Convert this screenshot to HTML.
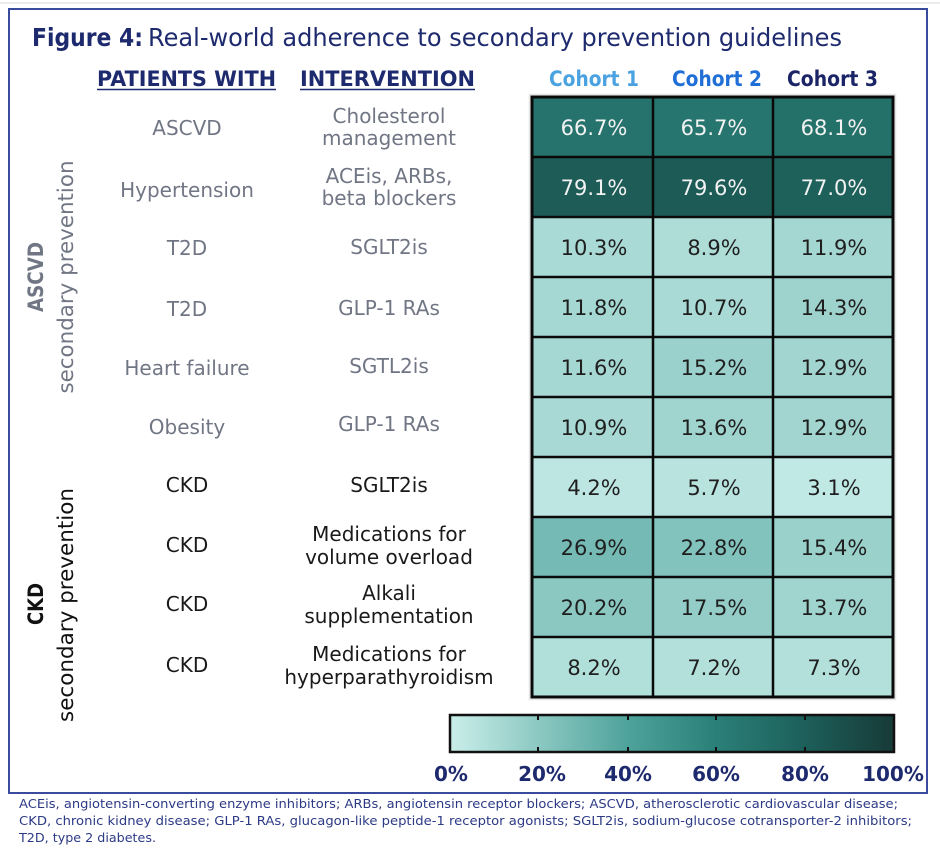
<!DOCTYPE html>
<html><head><meta charset="utf-8">
<style>
html,body{margin:0;padding:0;background:#fff;}
svg{display:block;}
</style></head>
<body>
<svg width="940" height="850" viewBox="0 0 940 850" xmlns="http://www.w3.org/2000/svg">
<defs>
<linearGradient id="cb" x1="0" y1="0" x2="1" y2="0">
<stop offset="0" stop-color="#caeeea"/>
<stop offset="0.2" stop-color="#8cc8c2"/>
<stop offset="0.4" stop-color="#4ea39b"/>
<stop offset="0.6" stop-color="#2a8078"/>
<stop offset="0.8" stop-color="#1d5f5a"/>
<stop offset="1" stop-color="#173a37"/>
</linearGradient>
</defs>
<rect width="940" height="850" fill="#fff"/>
<line x1="0" y1="3" x2="940" y2="3" stroke="#d8d8d8" stroke-width="1"/>
<!-- frame -->
<rect x="9" y="9" width="918" height="784" fill="none" stroke="#3a4a9c" stroke-width="2"/>

<!-- title -->
<g font-family="DejaVu Sans, Liberation Sans, sans-serif" fill="#1e2a6e" font-size="25">
<text x="32" y="46" font-weight="bold" textLength="111" lengthAdjust="spacingAndGlyphs">Figure 4:</text>
<text x="148" y="46" textLength="694" lengthAdjust="spacingAndGlyphs">Real-world adherence to secondary prevention guidelines</text>
</g>

<!-- headers -->
<g font-family="DejaVu Sans, Liberation Sans, sans-serif" font-weight="bold" font-size="21">
<text x="97" y="86" fill="#1e2a6e" textLength="179" lengthAdjust="spacingAndGlyphs">PATIENTS WITH</text>
<text x="300" y="86" fill="#1e2a6e" textLength="175" lengthAdjust="spacingAndGlyphs">INTERVENTION</text>
<text x="549" y="86" fill="#4aa3e0" textLength="90" lengthAdjust="spacingAndGlyphs">Cohort 1</text>
<text x="672" y="86" fill="#1f6fd6" textLength="90" lengthAdjust="spacingAndGlyphs">Cohort 2</text>
<text x="787" y="86" fill="#1a2466" textLength="91" lengthAdjust="spacingAndGlyphs">Cohort 3</text>
</g>
<line x1="97" y1="89.5" x2="276" y2="89.5" stroke="#1e2a6e" stroke-width="1.5"/>
<line x1="300" y1="89.5" x2="475" y2="89.5" stroke="#1e2a6e" stroke-width="1.5"/>

<!-- vertical labels -->
<g font-family="DejaVu Sans, Liberation Sans, sans-serif" font-size="21" text-anchor="middle">
<text x="43" y="277" transform="rotate(-90 43 277)" font-weight="bold" fill="#717684" textLength="70" lengthAdjust="spacingAndGlyphs">ASCVD</text>
<text x="73" y="277" transform="rotate(-90 73 277)" fill="#717684" textLength="233" lengthAdjust="spacingAndGlyphs">secondary prevention</text>
<text x="43" y="604" transform="rotate(-90 43 604)" font-weight="bold" fill="#111" textLength="42" lengthAdjust="spacingAndGlyphs">CKD</text>
<text x="73" y="605" transform="rotate(-90 73 605)" fill="#111" textLength="234" lengthAdjust="spacingAndGlyphs">secondary prevention</text>
</g>

<!-- row labels -->
<g font-family="DejaVu Sans, Liberation Sans, sans-serif" font-size="20" text-anchor="middle" fill="#717684">
<text x="187" y="135">ASCVD</text>
<text x="389" y="123">Cholesterol</text>
<text x="389" y="145">management</text>
<text x="187" y="197">Hypertension</text>
<text x="389" y="183">ACEis, ARBs,</text>
<text x="389" y="205">beta blockers</text>
<text x="187" y="255">T2D</text>
<text x="389" y="254">SGLT2is</text>
<text x="187" y="316">T2D</text>
<text x="389" y="315">GLP-1 RAs</text>
<text x="187" y="375">Heart failure</text>
<text x="389" y="373">SGTL2is</text>
<text x="187" y="434">Obesity</text>
<text x="389" y="431">GLP-1 RAs</text>
</g>
<g font-family="DejaVu Sans, Liberation Sans, sans-serif" font-size="20" text-anchor="middle" fill="#1a1a1a">
<text x="187" y="492">CKD</text>
<text x="389" y="492">SGLT2is</text>
<text x="187" y="552">CKD</text>
<text x="389" y="541">Medications for</text>
<text x="389" y="564">volume overload</text>
<text x="187" y="611">CKD</text>
<text x="389" y="600">Alkali</text>
<text x="389" y="623">supplementation</text>
<text x="187" y="672">CKD</text>
<text x="389" y="661">Medications for</text>
<text x="389" y="684">hyperparathyroidism</text>
</g>

<!-- heatmap cells -->
<rect x="529.5" y="94.5" width="366" height="605" fill="none" stroke="#e6e6e6" stroke-width="1.5"/>
<g>
<rect x="532" y="97" width="121" height="60" fill="#25736c"/>
<rect x="653" y="97" width="120" height="60" fill="#26756e"/>
<rect x="773" y="97" width="120" height="60" fill="#24716a"/>
<rect x="532" y="157" width="121" height="60" fill="#1d5c57"/>
<rect x="653" y="157" width="120" height="60" fill="#1c5b56"/>
<rect x="773" y="157" width="120" height="60" fill="#1e605a"/>
<rect x="532" y="217" width="121" height="60" fill="#aadad5"/>
<rect x="653" y="217" width="120" height="60" fill="#aeddd8"/>
<rect x="773" y="217" width="120" height="60" fill="#a5d7d2"/>
<rect x="532" y="277" width="121" height="60" fill="#a5d8d2"/>
<rect x="653" y="277" width="120" height="60" fill="#a9dad5"/>
<rect x="773" y="277" width="120" height="60" fill="#9ed3cd"/>
<rect x="532" y="337" width="121" height="60" fill="#a6d8d3"/>
<rect x="653" y="337" width="120" height="60" fill="#9bd1cc"/>
<rect x="773" y="337" width="120" height="60" fill="#a2d5d0"/>
<rect x="532" y="397" width="121" height="60" fill="#a8d9d4"/>
<rect x="653" y="397" width="120" height="60" fill="#a0d4cf"/>
<rect x="773" y="397" width="120" height="60" fill="#a2d5d0"/>
<rect x="532" y="457" width="121" height="60" fill="#bde6e2"/>
<rect x="653" y="457" width="120" height="60" fill="#b8e3df"/>
<rect x="773" y="457" width="120" height="60" fill="#c0e8e4"/>
<rect x="532" y="517" width="121" height="60" fill="#75bab4"/>
<rect x="653" y="517" width="120" height="60" fill="#83c3bd"/>
<rect x="773" y="517" width="120" height="60" fill="#9ad1cb"/>
<rect x="532" y="577" width="121" height="60" fill="#8bc8c2"/>
<rect x="653" y="577" width="120" height="60" fill="#94cdc7"/>
<rect x="773" y="577" width="120" height="60" fill="#a0d4cf"/>
<rect x="532" y="637" width="121" height="60" fill="#b1dfda"/>
<rect x="653" y="637" width="120" height="60" fill="#b4e0dc"/>
<rect x="773" y="637" width="120" height="60" fill="#b3e0db"/>
</g>
<!-- grid lines -->
<g stroke="#0a0a0a" stroke-width="2.5">
<line x1="653" y1="97" x2="653" y2="697"/>
<line x1="773" y1="97" x2="773" y2="697"/>
<line x1="532" y1="157" x2="893" y2="157"/>
<line x1="532" y1="217" x2="893" y2="217"/>
<line x1="532" y1="277" x2="893" y2="277"/>
<line x1="532" y1="337" x2="893" y2="337"/>
<line x1="532" y1="397" x2="893" y2="397"/>
<line x1="532" y1="457" x2="893" y2="457"/>
<line x1="532" y1="517" x2="893" y2="517"/>
<line x1="532" y1="577" x2="893" y2="577"/>
<line x1="532" y1="637" x2="893" y2="637"/>
</g>
<rect x="532" y="97" width="361" height="600" fill="none" stroke="#0a0a0a" stroke-width="3"/>

<!-- cell text -->
<g font-family="DejaVu Sans, Liberation Sans, sans-serif" font-size="21" text-anchor="middle">
<g fill="#f2f2f2">
<text x="594" y="135">66.7%</text><text x="714" y="135">65.7%</text><text x="834" y="135">68.1%</text>
<text x="594" y="195">79.1%</text><text x="714" y="195">79.6%</text><text x="834" y="195">77.0%</text>
</g>
<g fill="#1f1f1f">
<text x="594" y="255">10.3%</text><text x="714" y="255">8.9%</text><text x="834" y="255">11.9%</text>
<text x="594" y="315">11.8%</text><text x="714" y="315">10.7%</text><text x="834" y="315">14.3%</text>
<text x="594" y="375">11.6%</text><text x="714" y="375">15.2%</text><text x="834" y="375">12.9%</text>
<text x="594" y="435">10.9%</text><text x="714" y="435">13.6%</text><text x="834" y="435">12.9%</text>
<text x="594" y="495">4.2%</text><text x="714" y="495">5.7%</text><text x="834" y="495">3.1%</text>
<text x="594" y="555">26.9%</text><text x="714" y="555">22.8%</text><text x="834" y="555">15.4%</text>
<text x="594" y="615">20.2%</text><text x="714" y="615">17.5%</text><text x="834" y="615">13.7%</text>
<text x="594" y="675">8.2%</text><text x="714" y="675">7.2%</text><text x="834" y="675">7.3%</text>
</g>
</g>

<!-- colorbar -->
<rect x="450" y="715" width="444" height="37" fill="url(#cb)" stroke="#111" stroke-width="2.5"/>
<g stroke="#111" stroke-width="2">
<line x1="538" y1="715" x2="538" y2="720"/><line x1="538" y1="747" x2="538" y2="752"/>
<line x1="628" y1="715" x2="628" y2="720"/><line x1="628" y1="747" x2="628" y2="752"/>
<line x1="716" y1="715" x2="716" y2="720"/><line x1="716" y1="747" x2="716" y2="752"/>
<line x1="805" y1="715" x2="805" y2="720"/><line x1="805" y1="747" x2="805" y2="752"/>
</g>
<g font-family="DejaVu Sans, Liberation Sans, sans-serif" font-weight="bold" font-size="20" fill="#1e2a6e" text-anchor="middle">
<text x="451" y="781">0%</text>
<text x="542" y="781">20%</text>
<text x="628" y="781">40%</text>
<text x="716" y="781">60%</text>
<text x="805" y="781">80%</text>
<text x="893" y="781">100%</text>
</g>

<!-- footnote -->
<g font-family="DejaVu Sans, Liberation Sans, sans-serif" font-size="12.5" fill="#2c3a86">
<text x="19" y="808" textLength="879" lengthAdjust="spacingAndGlyphs">ACEis, angiotensin-converting enzyme inhibitors; ARBs, angiotensin receptor blockers; ASCVD, atherosclerotic cardiovascular disease;</text>
<text x="19" y="825" textLength="893" lengthAdjust="spacingAndGlyphs">CKD, chronic kidney disease; GLP-1 RAs, glucagon-like peptide-1 receptor agonists; SGLT2is, sodium-glucose cotransporter-2 inhibitors;</text>
<text x="19" y="842" textLength="137" lengthAdjust="spacingAndGlyphs">T2D, type 2 diabetes.</text>
</g>
</svg>
</body></html>
